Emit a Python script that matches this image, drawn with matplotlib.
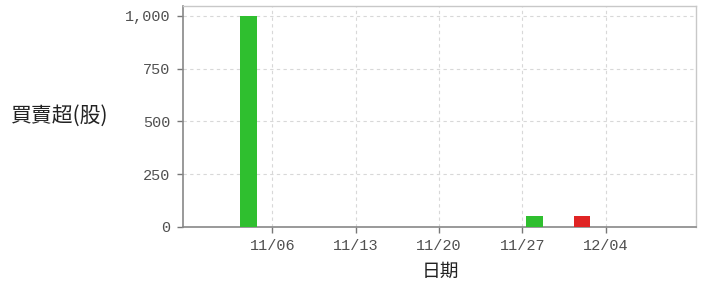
import matplotlib
matplotlib.use('Agg')
import matplotlib.pyplot as plt
import matplotlib.dates as mdates
import datetime as dt

plt.rcParams['font.family'] = ['Noto Sans CJK TC', 'DejaVu Sans']

# Data
dates = ['2023-11-04', '2023-11-28', '2023-12-02']
values = [1000, 50, 50]
colors = ['#2fbf2f', '#2fbf2f', '#e02424']
tick_dates = ['2023-11-06', '2023-11-13', '2023-11-20', '2023-11-27', '2023-12-04']
tick_labels = ['11/06', '11/13', '11/20', '11/27', '12/04']
y_ticks = [0, 250, 500, 750, 1000]
y_labels = ['0', '250', '500', '750', '1,000']

x = [dt.datetime.strptime(d, '%Y-%m-%d') for d in dates]
xt = [dt.datetime.strptime(d, '%Y-%m-%d') for d in tick_dates]

fig = plt.figure(figsize=(7.02, 2.91), dpi=100)
ax = fig.add_axes([183/702, 1-227/291, (696-183)/702, (227-6)/291])

ax.bar(x, values, width=1.4, color=colors, align='center', zorder=3)

ax.set_xlim(mdates.date2num(dt.datetime(2023, 10, 29, 12)),
            mdates.date2num(dt.datetime(2023, 12, 11, 14)))
ax.set_ylim(0, 1046)
ax.set_xticks(xt)
ax.set_xticklabels(tick_labels)
ax.set_yticks(y_ticks)
ax.set_yticklabels(y_labels)

for lab in ax.get_xticklabels() + ax.get_yticklabels():
    lab.set_family('Liberation Mono')
    lab.set_fontsize(11)
    lab.set_color('#505050')

ax.tick_params(axis='both', length=4, width=1, color='#777777', pad=5)
ax.grid(True, linestyle=(0, (3, 3)), color='#d8d8d8', linewidth=0.8, zorder=0)

for side in ['left', 'bottom']:
    ax.spines[side].set_color('#888888')
    ax.spines[side].set_linewidth(1.2)
for side in ['top', 'right']:
    ax.spines[side].set_color('#c8c8c8')
    ax.spines[side].set_linewidth(1)

ax.set_xlabel('日期', fontsize=13.5, color='#222222')
ax.xaxis.set_label_coords((440 - 183) / 513, (227 - 271.5) / 221)
ax.xaxis.label.set_va('center')
ax.set_ylabel('買賣超(股)', fontsize=15, color='#222222', rotation=0,
              va='center', ha='center')
ax.yaxis.set_label_coords((60 - 183) / 513, (227 - 116) / 221)

fig.savefig('out.png', dpi=100)
